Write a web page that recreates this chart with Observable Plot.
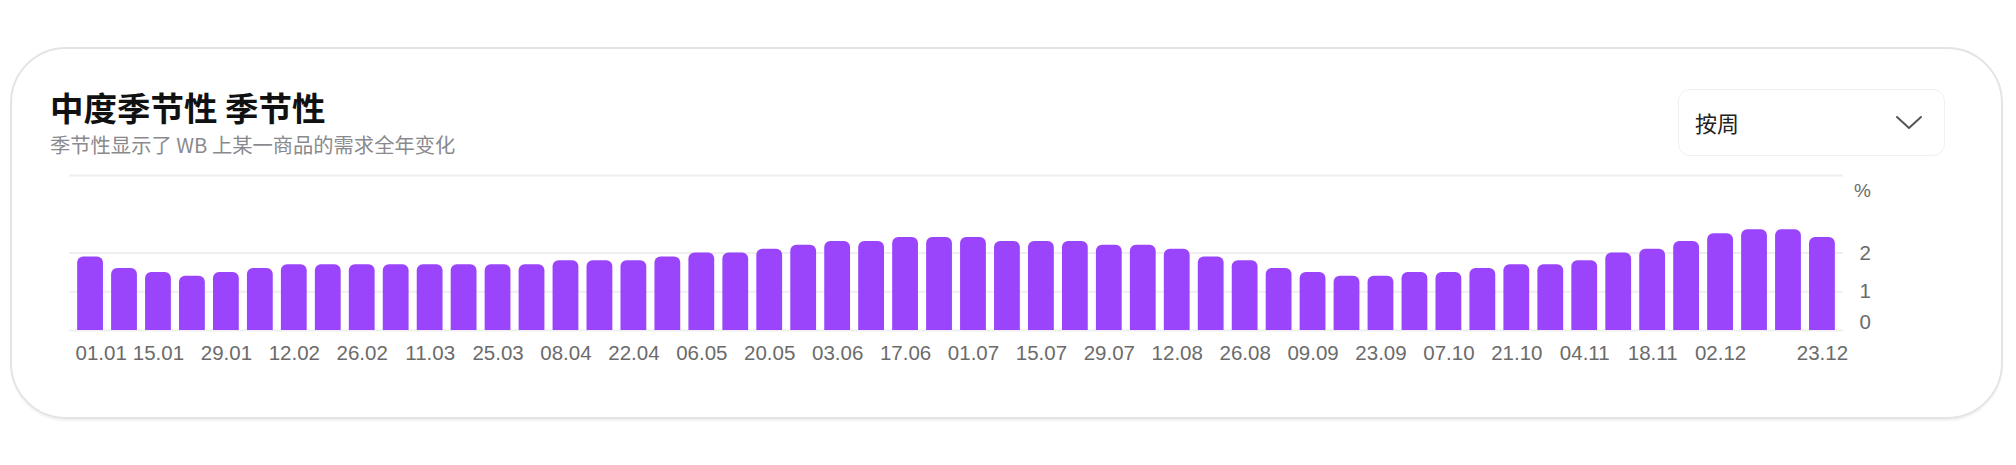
<!DOCTYPE html>
<html>
<head>
<meta charset="utf-8">
<script src="https://cdn.jsdelivr.net/npm/d3@7"></script>
<script src="https://cdn.jsdelivr.net/npm/@observablehq/plot@0.6"></script>
<style>
  html, body { margin: 0; padding: 0; background: #fff; width: 2016px; height: 465px; overflow: hidden; }
  body { font-family: "Noto Sans CJK SC", "Noto Sans", sans-serif; position: relative; }
  .card { position: absolute; left: 10px; top: 47px; width: 1993px; height: 372px; border: 2px solid #e4e4e4; border-radius: 56px; box-sizing: border-box; box-shadow: 0 3px 2px -1px rgba(0,0,0,0.06); }
  .title { position: absolute; left: 50px; top: 87px; font-size: 33.5px; font-weight: 700; color: #111; line-height: 40px; white-space: nowrap; }
  .subtitle { position: absolute; left: 50px; top: 131px; font-size: 20.3px; color: #8a8a8e; line-height: 26px; white-space: nowrap; }
  .select { position: absolute; left: 1678px; top: 89px; width: 267px; height: 67px; border: 1.5px solid #f0f0f0; border-radius: 12px; box-sizing: border-box; }
  .select .txt { position: absolute; left: 16px; top: 16px; font-size: 22px; color: #222; line-height: 32px; }
  .select svg { position: absolute; left: 216px; top: 25px; }
  #chart { position: absolute; left: 0; top: 160px; }
</style>
</head>
<body>
<div class="card"></div>
<div class="title">中度季节性 季节性</div>
<div class="subtitle">季节性显示了 WB 上某一商品的需求全年变化</div>
<div class="select"><span class="txt">按周</span>
  <svg width="28" height="16" viewBox="0 0 28 16"><path d="M2 2 L14 13 L26 2" fill="none" stroke="#555" stroke-width="2" stroke-linecap="round" stroke-linejoin="round"/></svg>
</div>
<div id="chart"></div>
<script>
const weeks = ["01.01","08.01","15.01","22.01","29.01","05.02","12.02","19.02","26.02","04.03",
  "11.03","18.03","25.03","01.04","08.04","15.04","22.04","29.04","06.05","13.05",
  "20.05","27.05","03.06","10.06","17.06","24.06","01.07","08.07","15.07","22.07",
  "29.07","05.08","12.08","19.08","26.08","02.09","09.09","16.09","23.09","30.09",
  "07.10","14.10","21.10","28.10","04.11","11.11","18.11","25.11","02.12","09.12",
  "16.12","23.12"];
const values = [1.9,1.6,1.5,1.4,1.5,1.6,1.7,1.7,1.7,1.7,
  1.7,1.7,1.7,1.7,1.8,1.8,1.8,1.9,2.0,2.0,
  2.1,2.2,2.3,2.3,2.4,2.4,2.4,2.3,2.3,2.3,
  2.2,2.2,2.1,1.9,1.8,1.6,1.5,1.4,1.4,1.5,
  1.5,1.6,1.7,1.7,1.8,2.0,2.1,2.3,2.5,2.6,
  2.6,2.4];
const xTickLabels = ["01.01","15.01","29.01","12.02","26.02","11.03","25.03","08.04","22.04","06.05",
  "20.05","03.06","17.06","01.07","15.07","29.07","12.08","26.08","09.09","23.09",
  "07.10","21.10","04.11","18.11","02.12","23.12"];
const yTicks = [1, 2];
const gridLines = [0, 1, 2, 4];
const yUnit = "%";

const data = weeks.map((w, i) => ({week: w, value: values[i]}));
const font = "Liberation Sans, Arial, sans-serif";

const chart = Plot.plot({
  width: 2016,
  height: 220,
  marginLeft: 69,
  marginRight: 173,
  marginTop: 15,
  marginBottom: 50,
  style: {fontFamily: font, fontSize: "20.5px", color: "#6e6e6e", background: "transparent"},
  x: {domain: weeks, padding: 0.24, label: null},
  y: {domain: [0, 4], label: null},
  marks: [
    Plot.ruleY(gridLines, {stroke: "#efefef", strokeWidth: 2}),
    Plot.barY(data, {x: "week", y: "value", fill: "#9a45fc", ry1: 6}),
    Plot.axisX(xTickLabels.slice(1), {tickSize: 0, tickPadding: 15, label: null, fill: "#6b6b6b"}),
    Plot.axisX(xTickLabels.slice(0, 1), {tickSize: 0, tickPadding: 15, label: null, textAnchor: "start", dx: -15, fill: "#6b6b6b"}),
    Plot.axisY(yTicks, {anchor: "right", tickSize: 0, tickPadding: 16, label: null, textAnchor: "start", fill: "#6b6b6b"}),
    Plot.axisY([0], {anchor: "right", tickSize: 0, tickPadding: 16, label: null, textAnchor: "start", dy: -8, fill: "#6b6b6b"}),
    Plot.text([yUnit], {frameAnchor: "top-right", dx: 19, dy: 8, textAnchor: "middle", fill: "#6b6b6b", fontSize: 19})
  ]
});
document.getElementById("chart").appendChild(chart);
</script>
</body>
</html>
